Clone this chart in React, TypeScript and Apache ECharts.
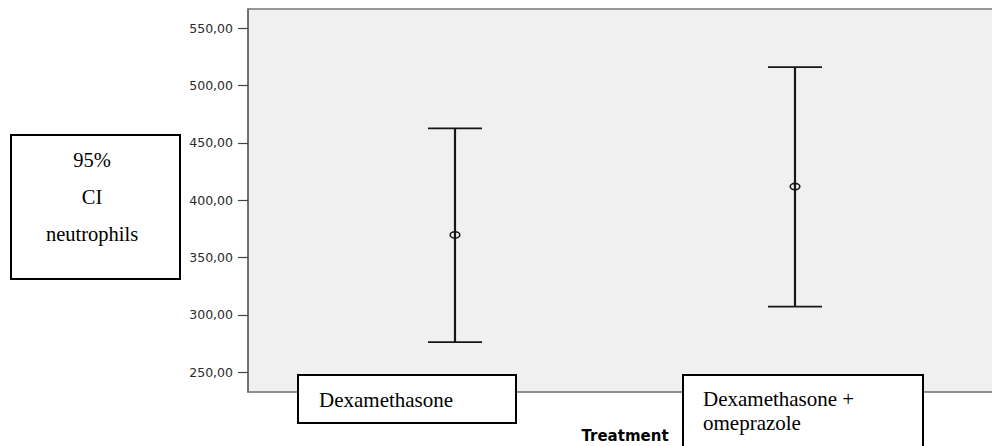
import React, { useEffect, useRef } from "react";
import * as echarts from "echarts";

const categories = ["Dexamethasone", "Dexamethasone + omeprazole"];
const means = [369.7, 411.8];
const lower = [276.3, 307.2];
const upper = [462.5, 516.0];
const yTicks = [250, 300, 350, 400, 450, 500, 550];
const yTitle = ["95%", "CI", "neutrophils"];
const xTitle = "Treatment";

export default function App() {
  const ref = useRef<HTMLDivElement>(null);
  useEffect(() => {
    if (!ref.current) return;
    const chart = echarts.init(ref.current, null, { renderer: "svg" });
    const data = categories.map((_, i) => [i, lower[i], means[i], upper[i]]);
    const ink = "#161616";
    chart.setOption({
      animation: false,
      backgroundColor: "#ffffff",
      grid: {
        left: 248,
        right: 0,
        top: 9,
        bottom: 54,
        show: true,
        backgroundColor: "#f0f0f0",
        borderWidth: 0,
      },
      xAxis: [
        {
          type: "value",
          min: -0.6088,
          max: 1.5794,
          position: "bottom",
          splitLine: { show: false },
          axisTick: { show: false },
          axisLabel: { show: false },
          axisLine: { show: true, onZero: false, lineStyle: { color: "#6e6e6e", width: 1.5 } },
        },
        {
          type: "value",
          min: -0.6088,
          max: 1.5794,
          position: "top",
          splitLine: { show: false },
          axisTick: { show: false },
          axisLabel: { show: false },
          axisLine: { show: true, onZero: false, lineStyle: { color: "#777777", width: 1.5 } },
        },
      ],
      yAxis: {
        type: "value",
        min: 232.8,
        max: 566.6,
        splitLine: { show: false },
        axisLine: { show: true, onZero: false, lineStyle: { color: "#444444", width: 1.5 } },
        axisTick: {
          show: true,
          length: 10,
          customValues: yTicks,
          lineStyle: { color: "#444444", width: 1.2 },
        },
        axisLabel: {
          show: true,
          margin: 15,
          customValues: yTicks,
          color: "#2a2a2a",
          fontFamily: "DejaVu Sans",
          fontSize: 12.5,
          formatter: (v: number) => v.toFixed(2).replace(".", ","),
        },
      },
      series: [
        {
          type: "custom",
          xAxisIndex: 0,
          yAxisIndex: 0,
          data,
          renderItem: (params: any, api: any) => {
            const x = api.value(0);
            const pLo = api.coord([x, api.value(1)]);
            const pM = api.coord([x, api.value(2)]);
            const pHi = api.coord([x, api.value(3)]);
            const cap = 27;
            return {
              type: "group",
              children: [
                {
                  type: "line",
                  shape: { x1: pLo[0], y1: pLo[1], x2: pHi[0], y2: pHi[1] },
                  style: { stroke: ink, lineWidth: 2.2 },
                },
                {
                  type: "line",
                  shape: { x1: pHi[0] - cap, y1: pHi[1], x2: pHi[0] + cap, y2: pHi[1] },
                  style: { stroke: ink, lineWidth: 1.8 },
                },
                {
                  type: "line",
                  shape: { x1: pLo[0] - cap, y1: pLo[1], x2: pLo[0] + cap, y2: pLo[1] },
                  style: { stroke: ink, lineWidth: 1.8 },
                },
                {
                  type: "ellipse",
                  shape: { cx: pM[0], cy: pM[1], rx: 4.8, ry: 3.2 },
                  style: { fill: "none", stroke: ink, lineWidth: 1.6 },
                },
              ],
            };
          },
        },
      ],
      graphic: [
        {
          type: "rect",
          shape: { x: 11, y: 135, width: 169, height: 144 },
          style: { fill: "#ffffff", stroke: "#000000", lineWidth: 2 },
          z: 10,
        },
        {
          type: "text",
          x: 92,
          y: 197,
          z: 11,
          style: {
            text: yTitle.join("\n"),
            fill: "#000000",
            font: '20.5px "Liberation Serif"',
            align: "center",
            verticalAlign: "middle",
            lineHeight: 37,
          },
        },
        {
          type: "rect",
          shape: { x: 298, y: 375, width: 218, height: 48 },
          style: { fill: "#ffffff", stroke: "#000000", lineWidth: 2 },
          z: 10,
        },
        {
          type: "text",
          x: 319,
          y: 400,
          z: 11,
          style: {
            text: categories[0],
            fill: "#000000",
            font: '21px "Liberation Serif"',
            align: "left",
            verticalAlign: "middle",
          },
        },
        {
          type: "rect",
          shape: { x: 683, y: 375, width: 240, height: 90 },
          style: { fill: "#ffffff", stroke: "#000000", lineWidth: 2 },
          z: 10,
        },
        {
          type: "text",
          x: 703,
          y: 411,
          z: 11,
          style: {
            text: categories[1].replace(" + ", " +\n"),
            fill: "#000000",
            font: '21px "Liberation Serif"',
            align: "left",
            verticalAlign: "middle",
            lineHeight: 24,
          },
        },
        {
          type: "text",
          x: 625,
          y: 436,
          z: 11,
          style: {
            text: xTitle,
            fill: "#000000",
            font: 'bold 15px "DejaVu Sans"',
            align: "center",
            verticalAlign: "middle",
          },
        },
      ],
    });
    return () => chart.dispose();
  }, []);
  return (
    <div
      ref={ref}
      style={{ position: "fixed", left: 0, top: 0, width: 992, height: 446 }}
    />
  );
}
